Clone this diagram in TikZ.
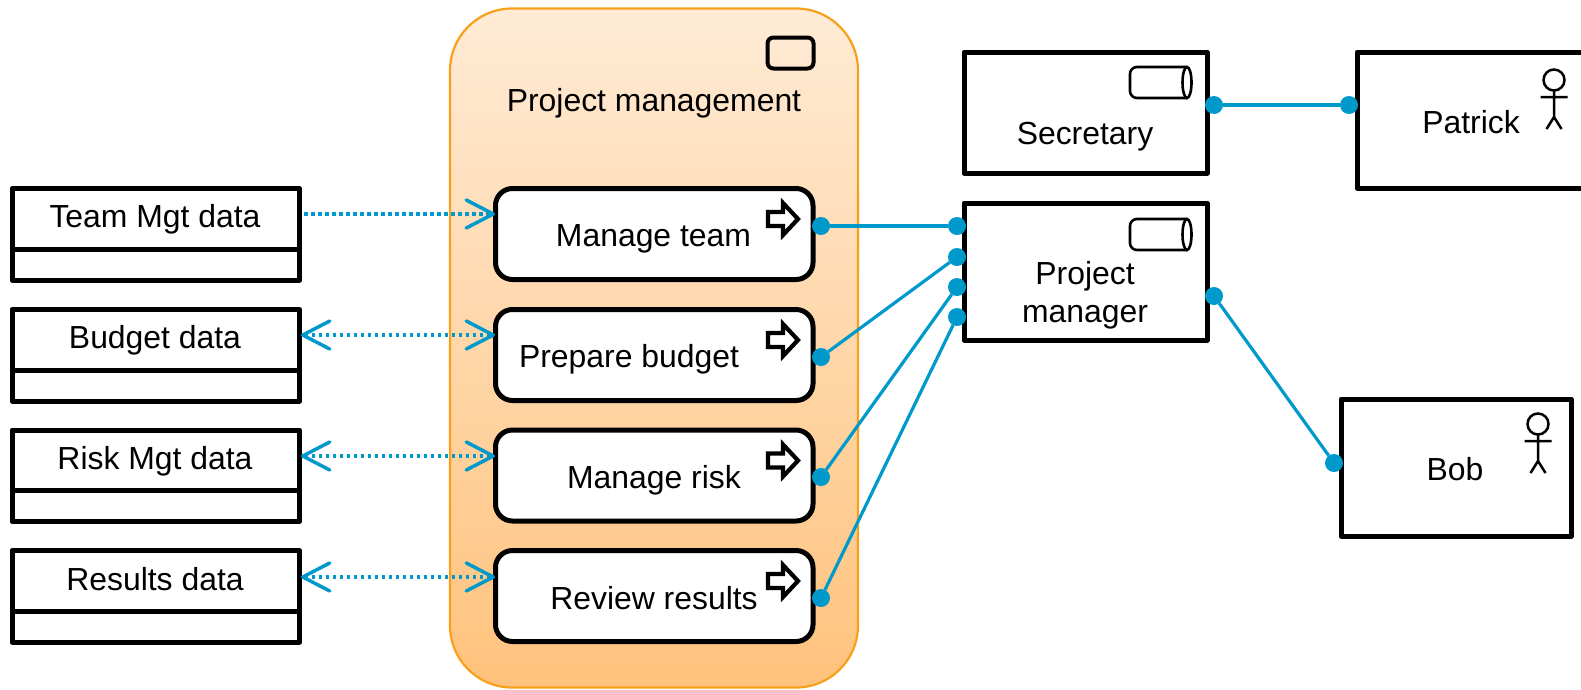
\documentclass[tikz,border=0pt]{standalone}
\usepackage{fontspec}
\setmainfont{Liberation Sans}
\usetikzlibrary{arrows.meta}
\definecolor{linkblue}{HTML}{0099CC}
\definecolor{groupedge}{HTML}{F9A01B}
\definecolor{grouptop}{HTML}{FFEBD6}
\definecolor{groupbot}{HTML}{FFC27C}
\tikzset{
  every node/.style={outer sep=0pt},
  boxa/.style={draw=black,line width=5pt,fill=white,rectangle,inner sep=0pt,line join=round},
  procbox/.style={boxa,rounded corners=17pt},
  lab/.style={anchor=base,inner sep=0pt,align=center,font=\fontsize{31.9}{37.5}\selectfont},
  dot/.style={circle,fill=linkblue,inner sep=0pt,minimum size=18pt},
  link/.style={draw=linkblue,line width=3.2pt},
  flow/.style={draw=linkblue,line width=3.2pt,dash pattern=on 3.5pt off 3.5pt},
  vee/.tip={Straight Barb[length=27pt,width=28pt,line width=3.5pt,round]},
  pics/procicon/.style={code={
    \draw[line width=4.2pt,miter limit=10] (-31,-7) -- (-16,-7) -- (-16,-16) -- (-1,0) -- (-16,16) -- (-16,7) -- (-31,7) -- cycle;}},
  pics/cylicon/.style={code={
    \draw[line width=2.6pt,rounded corners=7pt] (57,0) -- (0,0) -- (0,31) -- (57,31);
    \draw[line width=2.6pt] (57,15.5) ellipse [x radius=4.5,y radius=15.5];}},
  pics/actoricon/.style={code={
    \draw[line width=2.5pt] (0,0) circle [radius=10.5];
    \draw[line width=2.5pt] (0,10.5) -- (0,37) (-13.5,17) -- (13.5,17) (-7.5,49) -- (0,37) -- (7.5,49);}},
}
\begin{document}
\begin{tikzpicture}[x=1pt,y=-1pt]
\useasboundingbox (0,0) rectangle (1581,689);
% group
\node[rectangle,rounded corners=62pt,draw=groupedge,line width=2.2pt,top color=grouptop,bottom color=groupbot,minimum width=408pt,minimum height=679pt,inner sep=0pt] (group) at (654,348) {};
\node[draw=black,line width=4pt,rounded corners=6pt,minimum width=46pt,minimum height=31pt,inner sep=0pt] (groupicon) at (790.5,53) {};
\node[lab] (grouplab) at (654,111) {Project management};
% data boxes
\foreach \n/\c/\t/\b in {d1/0/Team Mgt data/227,d2/121/Budget data/348,d3/241.5/Risk Mgt data/469,d4/362/Results data/590}{
  \node[boxa,minimum width=287.5pt,minimum height=60.5pt] (\n h) at (155.75,218.75+\c) {};
  \node[boxa,minimum width=287.5pt,minimum height=31pt] (\n b) at (155.75,264.5+\c) {};
  \node[lab] (\n l) at (155,\b) {\t};
}
% processes
\foreach \n/\c/\t/\cx/\b in {p1/0/Manage team/653.5/246,p2/121/Prepare budget/629/367,p3/241.5/Manage risk/654/488,p4/362/Review results/654/609}{
  \node[procbox,minimum width=317.5pt,minimum height=91pt] (\n) at (654.25,234+\c) {};
  \node[lab] (\n l) at (\cx,\b) {\t};
  \path (799,219+\c) pic {procicon};
}
% active structure
\node[boxa,minimum width=243pt,minimum height=121pt] (sec) at (1085.5,112.5) {};
\node[lab] (secl) at (1085,144) {Secretary};
\path (1130,67) pic {cylicon};
\node[boxa,minimum width=243pt,minimum height=137pt] (pm) at (1085.5,271.5) {};
\node[lab] (pml) at (1085,322) {Project\\manager};
\path (1130,219) pic {cylicon};
\node[boxa,minimum width=240pt,minimum height=136pt] (pat) at (1477,120) {};
\node[lab] (patl) at (1471,133) {Patrick};
\path (1554,80) pic {actoricon};
\node[boxa,minimum width=230pt,minimum height=137pt] (bob) at (1456,467.5) {};
\node[lab] (bobl) at (1455,480) {Bob};
\path (1538,424) pic {actoricon};
% dots
\node[dot] (a1) at (821,226) {};
\node[dot] (a2) at (821,357) {};
\node[dot] (a3) at (821,477) {};
\node[dot] (a4) at (821,598) {};
\node[dot] (m1) at (957,226) {};
\node[dot] (m2) at (957,257) {};
\node[dot] (m3) at (957,287) {};
\node[dot] (m4) at (957,317) {};
\node[dot] (s1) at (1214,105) {};
\node[dot] (s2) at (1349,105) {};
\node[dot] (r1) at (1214,296) {};
\node[dot] (r2) at (1334,463) {};
\draw[link] (a1) -- (m1);
\draw[link] (a2) -- (m2);
\draw[link] (a3) -- (m3);
\draw[link] (a4) -- (m4);
\draw[link] (s1) -- (s2);
\draw[link] (r1) -- (r2);
% flows
\coordinate (f1a) at (304,214);
\coordinate (f1b) at (495,214);
\coordinate (f2a) at (301,335);
\coordinate (f2b) at (495,335);
\coordinate (f3a) at (301,456);
\coordinate (f3b) at (495,456);
\coordinate (f4a) at (301,577);
\coordinate (f4b) at (495,577);
\draw[flow,-{vee}] (f1a) -- (f1b);
\draw[flow,{vee}-{vee}] (f2a) -- (f2b);
\draw[flow,{vee}-{vee}] (f3a) -- (f3b);
\draw[flow,{vee}-{vee}] (f4a) -- (f4b);
\end{tikzpicture}
\end{document}
